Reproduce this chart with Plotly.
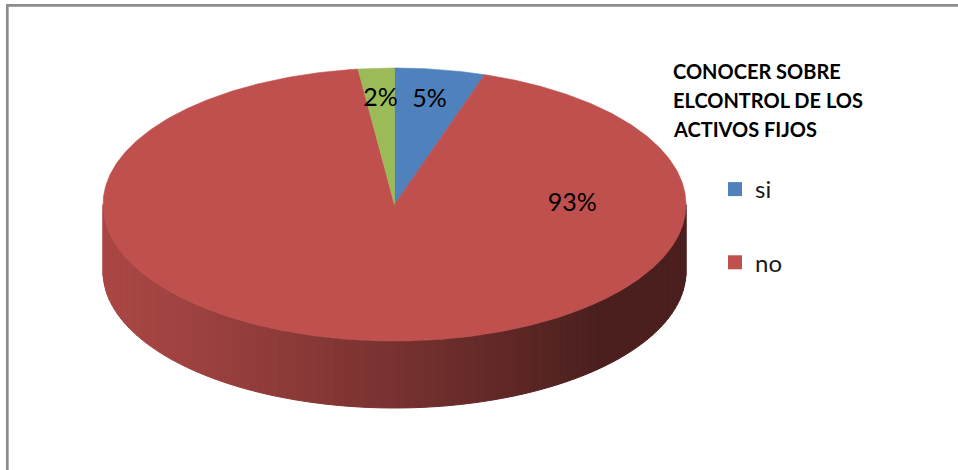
import numpy as np
import plotly.graph_objects as go

# Survey answers: "Conocer sobre el control de los activos fijos"
categories = ["si", "no", ""]
values = [5, 93, 2]
value_labels = ["5%", "93%", "2%"]
legend_title = ["CONOCER SOBRE", "ELCONTROL DE LOS", "ACTIVOS FIJOS"]

# Styling
top_colors = ["#4F81BD", "#C0504D", "#9BBB59"]
FONT = "Lato"
W, H = 958, 470
CX, CY = 394.5, 204.5      # centre of the top face
RX, RY = 291.5, 136.5      # radii of the top ellipse
DEPTH = 67                 # thickness of the disc
LABEL_R = 0.77
# the large slice gets its label on the right-hand side of the disc
label_angle_override = {"no": (90.0, 0.61)}


def hex_rgb(h):
    h = h.lstrip("#")
    return tuple(int(h[i:i + 2], 16) for i in (0, 2, 4))


def rim(phi_deg, drop=0.0):
    """Point on the rim; phi measured clockwise from 12 o'clock."""
    r = np.radians(phi_deg)
    return CX + RX * np.sin(r), CY - RY * np.cos(r) + drop


def side_shade(x):
    t = np.clip((x - (CX - RX)) / (2 * RX), 0, 1)
    return 0.88 - 0.49 * min(t / 0.85, 1.0) ** 1.2


total = float(sum(values))
bounds = np.concatenate([[0.0], np.cumsum(values) / total * 360.0])

fig = go.Figure()

# --- visible wall of the disc (front half, 90..270 degrees) ---
for i, col in enumerate(top_colors):
    a0, a1 = max(bounds[i], 90.0), min(bounds[i + 1], 270.0)
    if a1 <= a0:
        continue
    n = max(int((a1 - a0) / 2.0), 1)
    edges = np.linspace(a0, a1, n + 1)
    base = hex_rgb(col)
    for s in range(n):
        ph = np.linspace(edges[s], edges[s + 1], 4)
        xt, yt = rim(ph)
        xb, yb = rim(ph[::-1], DEPTH)
        xs = np.concatenate([xt, xb, xt[:1]])
        ys = np.concatenate([yt, yb, yt[:1]])
        f = side_shade(xs.mean())
        c = "rgb(%d,%d,%d)" % tuple(int(round(v * f)) for v in base)
        fig.add_trace(go.Scatter(
            x=xs, y=ys, mode="lines", fill="toself", fillcolor=c,
            line=dict(color=c, width=1), hoverinfo="skip", showlegend=False))

# --- top face slices ---
for i, col in enumerate(top_colors):
    ph = np.linspace(bounds[i], bounds[i + 1], max(int(bounds[i + 1] - bounds[i]) * 2, 4))
    xa, ya = rim(ph)
    xs = np.concatenate([[CX], xa, [CX]])
    ys = np.concatenate([[CY], ya, [CY]])
    fig.add_trace(go.Scatter(
        x=xs, y=ys, mode="lines", fill="toself", fillcolor=col,
        line=dict(color=col, width=0.6), name=categories[i],
        hoverinfo="name", showlegend=False))

# --- data labels ---
lx, ly = [], []
for i, cat in enumerate(categories):
    if cat in label_angle_override:
        ang, rr = label_angle_override[cat]
    else:
        ang, rr = (bounds[i] + bounds[i + 1]) / 2.0, LABEL_R
    r = np.radians(ang)
    lx.append(CX + rr * RX * np.sin(r))
    ly.append(CY - rr * RY * np.cos(r))
fig.add_trace(go.Scatter(
    x=lx, y=ly, mode="text", text=value_labels, textposition="middle center",
    textfont=dict(family=FONT, size=25, color="#000000"),
    hoverinfo="skip", showlegend=False))

# --- legend entries (named categories only) ---
for cat, col in zip(categories, top_colors):
    if not cat:
        continue
    fig.add_trace(go.Scatter(
        x=[None], y=[None], mode="markers", name=cat, legendgroup=cat,
        marker=dict(symbol="square", size=14, color=col)))

# legend heading
for k, line in enumerate(legend_title):
    fig.add_annotation(
        x=671, y=71 + 29 * k, xref="x", yref="y", text="<b>%s</b>" % line,
        showarrow=False, xanchor="left", yanchor="middle",
        font=dict(family=FONT, size=20, color="#000000"))

# frame around the chart area
fig.add_shape(type="line", x0=6, x1=W, y0=5.3, y1=5.3, xref="x", yref="y",
              line=dict(color="#8C8C8C", width=2.7))
fig.add_shape(type="line", x0=7.3, x1=7.3, y0=4, y1=H, xref="x", yref="y",
              line=dict(color="#8C8C8C", width=2.7))

fig.update_layout(
    width=W, height=H, margin=dict(l=0, r=0, t=0, b=0),
    paper_bgcolor="white", plot_bgcolor="white",
    xaxis=dict(range=[0, W], visible=False, fixedrange=True),
    yaxis=dict(range=[H, 0], visible=False, fixedrange=True),
    legend=dict(x=715 / W, y=1 - 167 / H, xanchor="left", yanchor="top",
                tracegroupgap=39, bgcolor="rgba(0,0,0,0)",
                font=dict(family=FONT, size=24, color="#1a1a1a")),
    showlegend=True,
)

fig.write_html("out.html")
